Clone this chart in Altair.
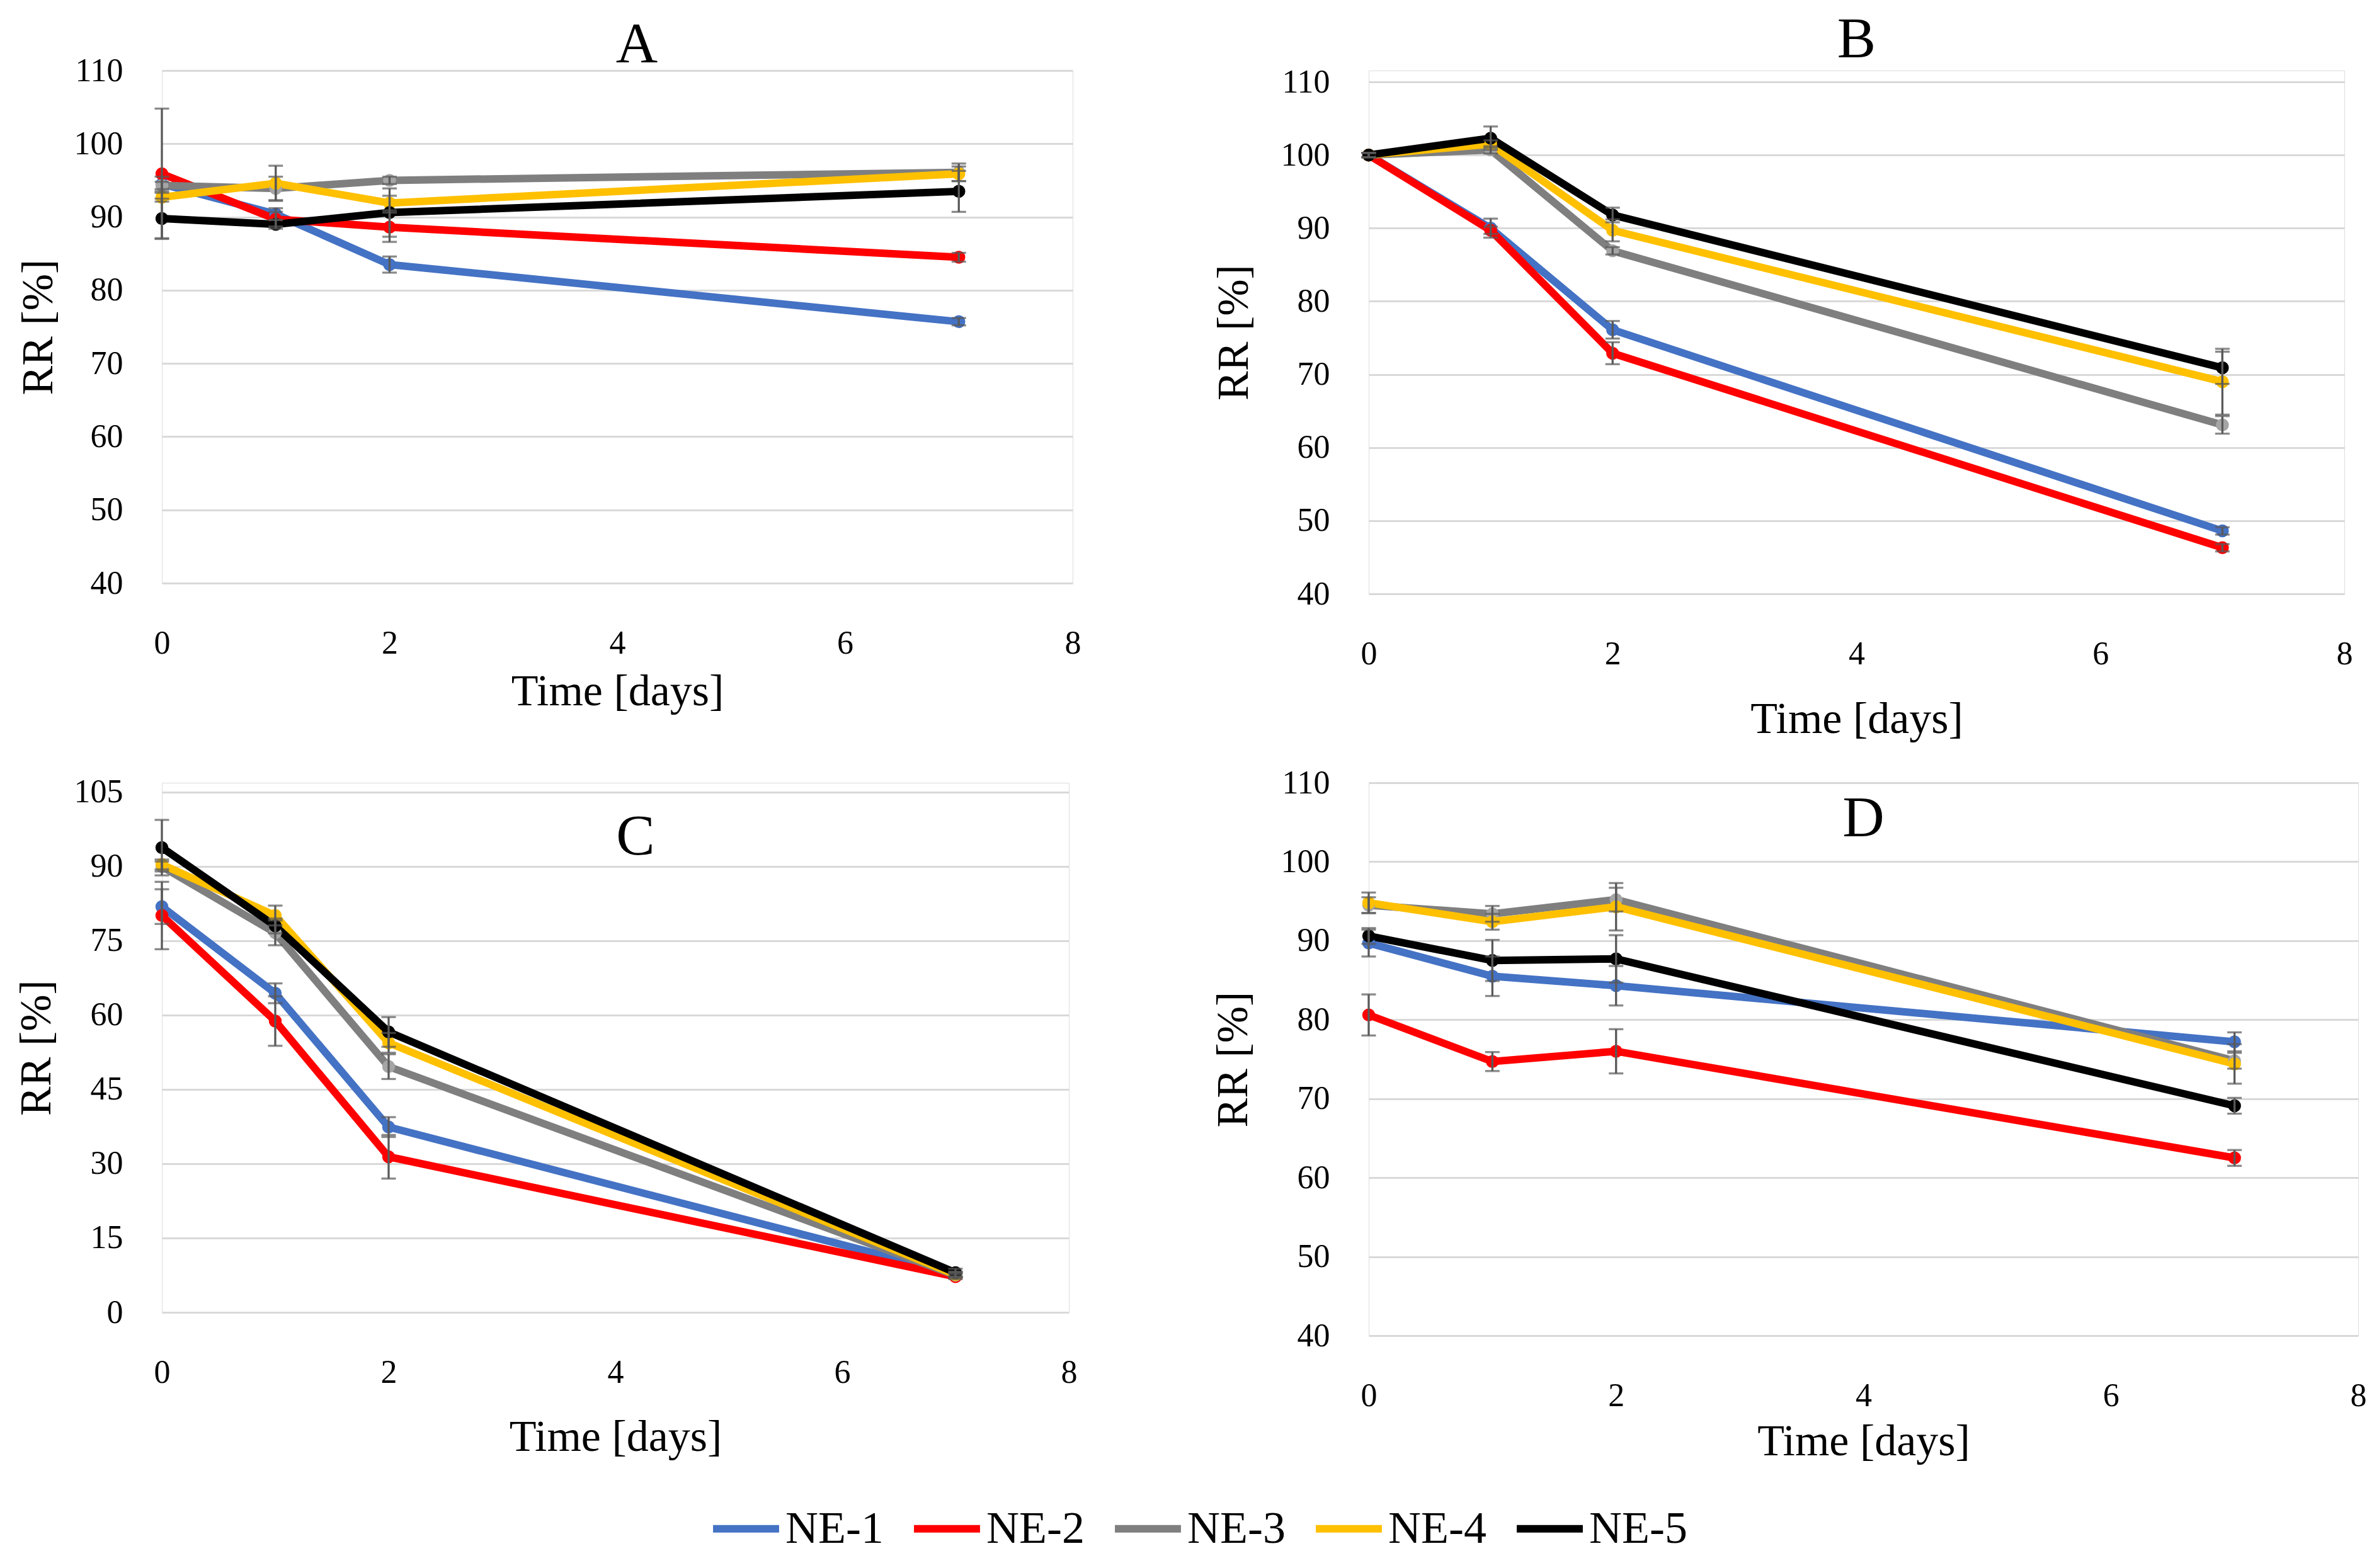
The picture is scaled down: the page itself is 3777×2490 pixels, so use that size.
import altair as alt
import pandas as pd

FONT = "Liberation Serif"

days = [0, 1, 2, 7]
series = ["NE-1", "NE-2", "NE-3", "NE-4", "NE-5"]
line_colors = ["#4472C4", "#FF0000", "#7F7F7F", "#FFC000", "#000000"]
marker_colors = ["#4472C4", "#FF0000", "#A5A5A5", "#FFC000", "#000000"]

# Panel A
A_values = [
    [94.5, 90.4, 83.5, 75.7],
    [95.9, 89.7, 88.6, 84.5],
    [94.3, 93.9, 95.0, 96.1],
    [92.7, 94.6, 91.9, 95.9],
    [89.8, 89.0, 90.6, 93.5],
]
A_errors = [
    [1.0, 0.8, 1.1, 0.5],
    [8.9, 1.0, 2.0, 0.6],
    [0.5, 1.6, 0.5, 1.2],
    [0.6, 2.4, 1.0, 1.0],
    [2.7, 0.6, 3.3, 2.8],
]
# Panel B
B_values = [
    [100.0, 90.0, 76.1, 48.6],
    [100.0, 89.7, 72.9, 46.3],
    [100.0, 100.7, 86.9, 63.1],
    [100.0, 101.5, 89.7, 69.0],
    [100.0, 102.3, 91.8, 70.9],
]
B_errors = [
    [0.3, 1.3, 1.2, 0.5],
    [0.3, 0.5, 1.5, 0.5],
    [0.3, 0.5, 0.5, 1.2],
    [0.3, 0.5, 1.5, 4.5],
    [0.3, 1.6, 1.0, 2.2],
]
# Panel C
C_values = [
    [81.9, 64.4, 37.4, 7.7],
    [80.1, 58.8, 31.4, 7.2],
    [90.0, 76.6, 49.6, 7.5],
    [90.4, 80.1, 54.4, 7.6],
    [93.8, 78.0, 56.6, 8.0],
]
C_errors = [
    [3.5, 2.0, 2.0, 0.5],
    [6.8, 5.0, 4.4, 0.5],
    [1.0, 2.5, 2.5, 0.5],
    [1.0, 2.0, 2.0, 0.5],
    [5.6, 1.5, 3.0, 0.8],
]
# Panel D
D_values = [
    [89.7, 85.5, 84.3, 77.2],
    [80.6, 74.7, 76.0, 62.5],
    [94.5, 93.4, 95.2, 74.8],
    [94.8, 92.4, 94.3, 74.4],
    [90.6, 87.5, 87.7, 69.1],
]
D_errors = [
    [1.7, 2.5, 2.5, 1.2],
    [2.6, 1.2, 2.8, 1.0],
    [1.0, 1.0, 1.5, 1.0],
    [1.3, 1.0, 3.0, 2.5],
    [1.0, 2.6, 3.0, 1.0],
]

x_ticks = [0, 2, 4, 6, 8]
y_ticks_std = [40, 50, 60, 70, 80, 90, 100, 110]
y_ticks_C = [0, 15, 30, 45, 60, 75, 90, 105]


def frame(values, errors):
    rows = []
    for s, vals, errs, mc in zip(series, values, errors, marker_colors):
        for d, v, e in zip(days, vals, errs):
            rows.append({"series": s, "day": d, "rr": v, "lo": v - e, "hi": v + e, "mc": mc})
    return pd.DataFrame(rows)


def panel(letter, values, errors, ydomain, yticks, width, height,
          xtp, ytp, tdx, toff):
    df = frame(values, errors)
    base = alt.Chart(df)
    xs = alt.Scale(domain=[0, 8], nice=False, zero=False)
    ys = alt.Scale(domain=ydomain, nice=False, zero=False)
    xaxis = alt.Axis(values=x_ticks, title="Time [days]", grid=False, domain=False,
                     ticks=False, labelFlush=False, labelPadding=70, titlePadding=xtp,
                     labelFontSize=52, titleFontSize=70, labelFont=FONT, titleFont=FONT,
                     labelColor="#000000", titleColor="#000000", titleFontWeight="normal")
    yaxis = alt.Axis(values=yticks, title="RR [%]", grid=True, gridColor="#D9D9D9",
                     gridWidth=3, domain=False, ticks=False, labelPadding=62,
                     titlePadding=ytp, labelFontSize=52, titleFontSize=70,
                     labelFont=FONT, titleFont=FONT, labelColor="#000000",
                     titleColor="#000000", titleFontWeight="normal")

    def X():
        return alt.X("day:Q", scale=xs, axis=xaxis, title="Time [days]")

    def Y(field):
        return alt.Y(field + ":Q", scale=ys, axis=yaxis, title="RR [%]")

    color = alt.Color(
        "series:N",
        scale=alt.Scale(domain=series, range=line_colors),
        legend=alt.Legend(
            title=None, orient="none", direction="horizontal", columns=5,
            legendX=869, legendY=2257, symbolType="stroke", symbolSize=11000,
            symbolStrokeWidth=12, labelFont=FONT, labelFontSize=72, labelColor="#000000",
            labelOffset=4, columnPadding=24, labelLimit=400,
        ),
    )
    lines = base.mark_line(strokeWidth=12).encode(x=X(), y=Y("rr"), color=color, order="day:Q")
    points = base.mark_circle(size=420, opacity=1).encode(
        x=X(), y=Y("rr"), fill=alt.Fill("mc:N", scale=None))
    rules = base.mark_rule(color="#595959", strokeWidth=3.3).encode(
        x=X(), y=Y("lo"), y2="hi:Q")
    cap_lo = base.mark_tick(orient="horizontal", size=23, thickness=3.3, color="#595959").encode(
        x=X(), y=Y("lo"))
    cap_hi = base.mark_tick(orient="horizontal", size=23, thickness=3.3, color="#595959").encode(
        x=X(), y=Y("hi"))
    return alt.layer(lines, points, rules, cap_lo, cap_hi).properties(
        width=width, height=height,
        title=alt.TitleParams(letter, font=FONT, fontSize=92, fontWeight="normal",
                              color="#000000", anchor="middle", frame="group",
                              dx=tdx, offset=toff),
    )


pA = panel("A", A_values, A_errors, [40, 110], y_ticks_std, 1446, 814, 17, 20, 31, -32)
pB = panel("B", B_values, B_errors, [40, 111.55], y_ticks_std, 1549, 831, 44, 38, 0, -6)
pC = panel("C", C_values, C_errors, [0, 106.9], y_ticks_C, 1440, 841, 43, 23, 32, -144)
pD = panel("D", D_values, D_errors, [40, 110], y_ticks_std, 1571, 878, 13, 39, 0, -130)

chart = alt.concat(
    pA, pB, pC, pD, columns=2, spacing={"row": 300, "column": 470},
    bounds="flush", align="none",
).resolve_scale(color="shared").properties(
    padding={"left": 14, "top": 8, "right": 0, "bottom": 10}
).configure_view(strokeWidth=0).configure(background="white")

chart.save("out.html", embed_options={"renderer": "svg", "actions": False})
